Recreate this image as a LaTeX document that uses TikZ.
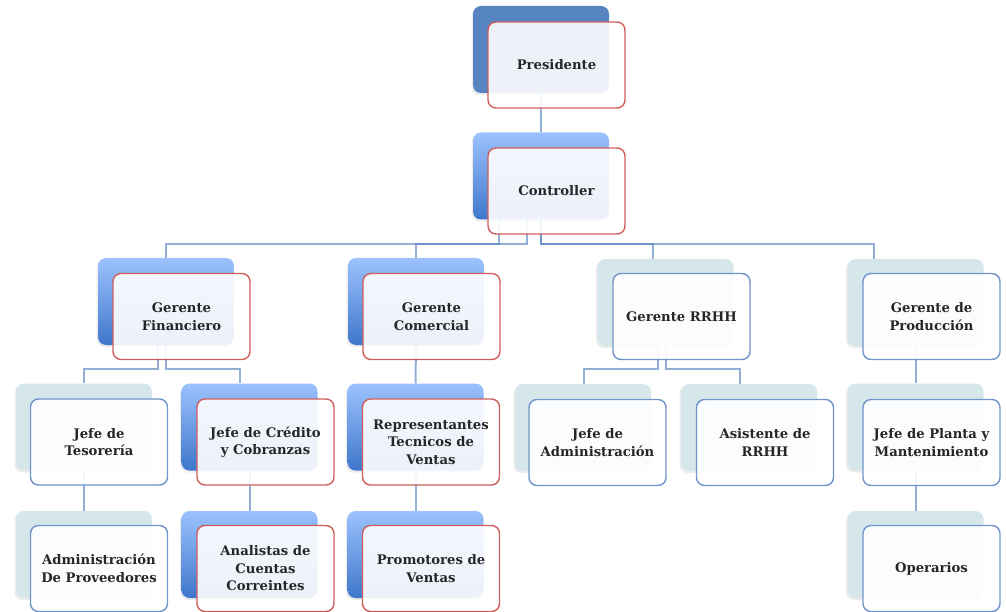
\documentclass[tikz,border=0pt]{standalone}
\usepackage{fontspec}
\setmainfont{DejaVu Serif}
\usetikzlibrary{calc,shadows}
\definecolor{darkB}{HTML}{5584C0}
\definecolor{gTop}{HTML}{9CC2FE}
\definecolor{gBot}{HTML}{3F77CB}
\definecolor{tealB}{HTML}{D6E7EC}
\definecolor{redE}{HTML}{CF5E5B}
\definecolor{bluE}{HTML}{6F94CA}
\definecolor{lineC}{HTML}{5A84C2}
\definecolor{txt}{HTML}{262626}
\tikzset{
 bk/.style={rounded corners=8pt, minimum width=136pt, minimum height=87pt, inner sep=0pt,
   drop shadow={shadow xshift=-1.5pt,shadow yshift=-2pt,opacity=0.15}},
 bkdark/.style={bk, fill=darkB},
 bkgrad/.style={bk, top color=gTop, bottom color=gBot},
 bkteal/.style={bk, fill=tealB},
 fr/.style={rounded corners=8pt, minimum width=137pt, minimum height=86pt, inner sep=2pt,
   fill=white, fill opacity=0.9, text opacity=1, line width=1.4pt, align=center, text=txt,
   font=\fontsize{13.2}{17.5}\selectfont\bfseries},
 frred/.style={fr, draw=redE},
 frblue/.style={fr, draw=bluE},
 conn/.style={draw=lineC, line width=2pt, draw opacity=0.65},
}
\begin{document}
\begin{tikzpicture}[x=1pt,y=-1pt]
\useasboundingbox (0,0) rectangle (1006,612);
% back boxes
\node[bkdark] (presB) at (541,49.5) {};
\node[bkgrad] (ctrlB) at (541,176) {};
\node[bkgrad] (finB) at (166,301.5) {};
\node[bkgrad] (comB) at (416,301.5) {};
\node[bkteal] (rrhhB) at (665.5,302.5) {};
\node[bkteal] (prodB) at (915.5,302.5) {};
\node[bkteal] (tesB) at (84,427) {};
\node[bkgrad] (creB) at (249.5,427) {};
\node[bkgrad] (repB) at (415.5,427) {};
\node[bkteal] (admB) at (583,427.5) {};
\node[bkteal] (asiB) at (749,427.5) {};
\node[bkteal] (planB) at (915.5,427) {};
\node[bkteal] (provB) at (84,554.5) {};
\node[bkgrad] (anaB) at (249.5,554.5) {};
\node[bkgrad] (promB) at (415.5,554.5) {};
\node[bkteal] (opB) at (915.5,554.5) {};
% connectors
\draw[conn] (presB.south) -- (ctrlB.north);
\draw[conn] ($(ctrlB.south)+(-14,0)$) |- ($(finB.north)+(0,-13.5)$) -- (finB.north);
\draw[conn] ($(ctrlB.south)+(-42,0)$) |- ($(comB.north)+(0,-13.5)$) -- (comB.north);
\draw[conn] (ctrlB.south) |- ($(rrhhB.north)+(-12.5,-14.5)$) -- ($(rrhhB.north)+(-12.5,0)$);
\draw[conn] (ctrlB.south) |- ($(prodB.north)+(-41.5,-14.5)$) -- ($(prodB.north)+(-41.5,0)$);
\draw[conn] ($(finB.south)+(-8,0)$) |- ($(tesB.north)+(0,-14)$) -- (tesB.north);
\draw[conn] (finB.south) |- ($(creB.north)+(-9.5,-14)$) -- ($(creB.north)+(-9.5,0)$);
\draw[conn] (comB.south) -- (repB.north);
\draw[conn] ($(rrhhB.south)+(-7.5,0)$) |- ($(admB.north)+(1,-14.5)$) -- ($(admB.north)+(1,0)$);
\draw[conn] (rrhhB.south) |- ($(asiB.north)+(-9,-14.5)$) -- ($(asiB.north)+(-9,0)$);
\draw[conn] (prodB.south) -- (planB.north);
\draw[conn] (tesB.south) -- (provB.north);
\draw[conn] (creB.south) -- (anaB.north);
\draw[conn] (repB.south) -- (promB.north);
\draw[conn] (planB.south) -- (opB.north);
% front boxes
\node[frred] (pres) at (556.5,65) {Presidente};
\node[frred] (ctrl) at (556.5,191) {Controller};
\node[frred] (fin) at (181.5,316.5) {Gerente\\Financiero};
\node[frred] (com) at (431.5,316.5) {Gerente\\Comercial};
\node[frblue] (rrhh) at (681.5,316.5) {Gerente RRHH};
\node[frblue] (prod) at (931.5,316.5) {Gerente de\\Producción};
\node[frblue] (tes) at (99,442) {Jefe de\\Tesorería};
\node[frred] (cre) at (265.5,442) {Jefe de Crédito\\y Cobranzas};
\node[frred] (rep) at (431,442) {Representantes\\Tecnicos de\\Ventas};
\node[frblue] (adm) at (597.5,442.5) {Jefe de\\Administración};
\node[frblue] (asi) at (765,442.5) {Asistente de\\RRHH};
\node[frblue] (plan) at (931.5,442.5) {Jefe de Planta y\\Mantenimiento};
\node[frblue] (prov) at (99,568.5) {Administración\\De Proveedores};
\node[frred] (ana) at (265.5,568.5) {Analistas de\\Cuentas\\Correintes};
\node[frred] (prom) at (431,568.5) {Promotores de\\Ventas};
\node[frblue] (op) at (931.5,568.5) {Operarios};
\end{tikzpicture}
\end{document}
